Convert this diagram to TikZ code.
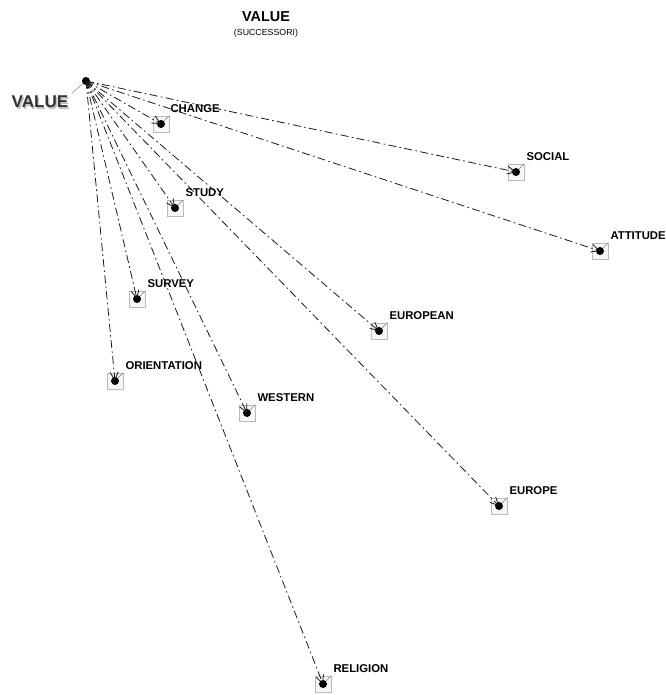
\documentclass[tikz,border=0pt]{standalone}
\usepackage{fontspec}
\setmainfont{Liberation Sans}
\usetikzlibrary{arrows.meta}

\tikzset{
	word/.style={font=\bfseries\fontsize{8.5}{10}\selectfont, anchor=south west, inner sep=0pt},
	pinbox/.style={draw=gray!55, fill=gray!6, minimum size=12pt, inner sep=0pt},
	link/.style={line width=0.6pt, black!90, dash pattern=on 6pt off 2.5pt on 1.2pt off 2.5pt, -{Straight Barb[length=6pt,width=6pt]}},
}

\begin{document}
\begin{tikzpicture}[x=0.75pt, y=-0.75pt]
	\useasboundingbox (0,0) rectangle (666,695);
	% titolo
	\path
		(266,17) node[font=\bfseries\fontsize{10.8}{12}\selectfont]{VALUE}
		(266,33) node[font=\fontsize{6.6}{8}\selectfont]{(SUCCESSORI)}
	;
	% sorgente
	\path
		(86,81) coordinate (value)
		(40,102) node[font=\bfseries\fontsize{12.8}{14}\selectfont, text=black!25, xshift=1pt, yshift=-1pt]{VALUE}
		(40,102) node[font=\bfseries\fontsize{12.8}{14}\selectfont, text=black!80] (valuelab){VALUE}
		(72,93) coordinate (valuetail)
	;
	\draw[gray] (valuetail) -- (value);
	\fill (value) circle(3pt);
	% successori
	\path
		(161,124) node[pinbox] (change){}   (change.north east) ++(1,-3) node[word]{CHANGE}
		(516,172) node[pinbox] (social){}   (social.north east) ++(2,-3) node[word]{SOCIAL}
		(600,251) node[pinbox] (attitude){} (attitude.north east) ++(2,-3) node[word]{ATTITUDE}
		(175,208) node[pinbox] (study){}    (study.north east) ++(2,-3) node[word]{STUDY}
		(137,299) node[pinbox] (survey){}   (survey.north east) ++(2,-3) node[word]{SURVEY}
		(379,331) node[pinbox] (european){} (european.north east) ++(2,-3) node[word]{EUROPEAN}
		(115,381) node[pinbox] (orientation){} (orientation.north east) ++(2,-3) node[word]{ORIENTATION}
		(247,413) node[pinbox] (western){}  (western.north east) ++(2,-3) node[word]{WESTERN}
		(499,506) node[pinbox] (europe){}   (europe.north east) ++(2,-3) node[word]{EUROPE}
		(323,684) node[pinbox] (religion){} (religion.north east) ++(2,-3) node[word]{RELIGION}
	;
	\foreach \n in {change,social,attitude,study,survey,european,orientation,western,europe,religion}{
		\draw[gray] (\n.center) -- (\n.north east);
		\fill (\n.center) circle(3pt);
		\draw[link] (value) -- (\n.center);
	}
\end{tikzpicture}
\end{document}
